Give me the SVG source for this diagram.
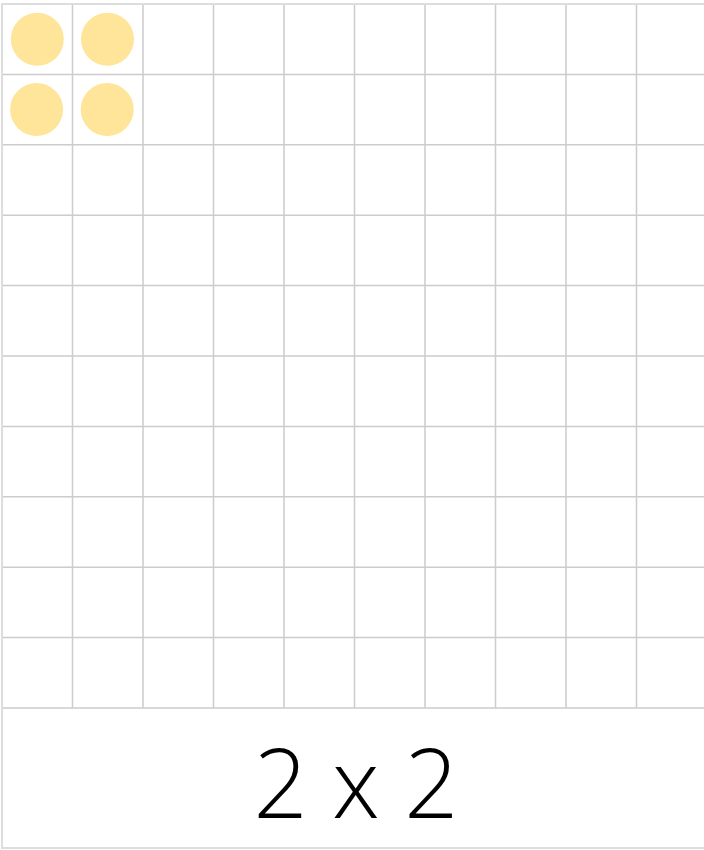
<svg xmlns="http://www.w3.org/2000/svg" width="704" height="850" viewBox="0 0 704 850">
<style>
.g{stroke:#cccccc;stroke-width:1.5;fill:none}
.b{stroke:#dddddd;stroke-width:2;fill:none}
.c{fill:#ffe599}
.t{font-family:"Open Sans","Liberation Sans",sans-serif;font-weight:300;font-size:95px;fill:#000}
</style>
<rect width="704" height="850" fill="#ffffff"/>
<g id="grid">
<path class="g" d="M72.5 4V708M143 4V708M213.5 4V708M284 4V708M354.5 4V708M425 4V708M495.5 4V708M566 4V708M636.5 4V708M2 74.4H707M2 144.8H707M2 215.2H707M2 285.6H707M2 356H707M2 426.4H707M2 496.8H707M2 567.2H707M2 637.6H707M2 708H707"/>
<rect class="b" x="2" y="4" width="705" height="844"/>
</g>
<g id="counters">
<circle class="c" cx="37.3" cy="39.2" r="26.5"/>
<circle class="c" cx="107.5" cy="39.2" r="26.5"/>
<circle class="c" cx="36.6" cy="109.4" r="26.5"/>
<circle class="c" cx="107.2" cy="109.4" r="26.5"/>
</g>
<g id="label">
<text class="t" x="356" y="818" text-anchor="middle">2 x 2</text>
</g>
</svg>
